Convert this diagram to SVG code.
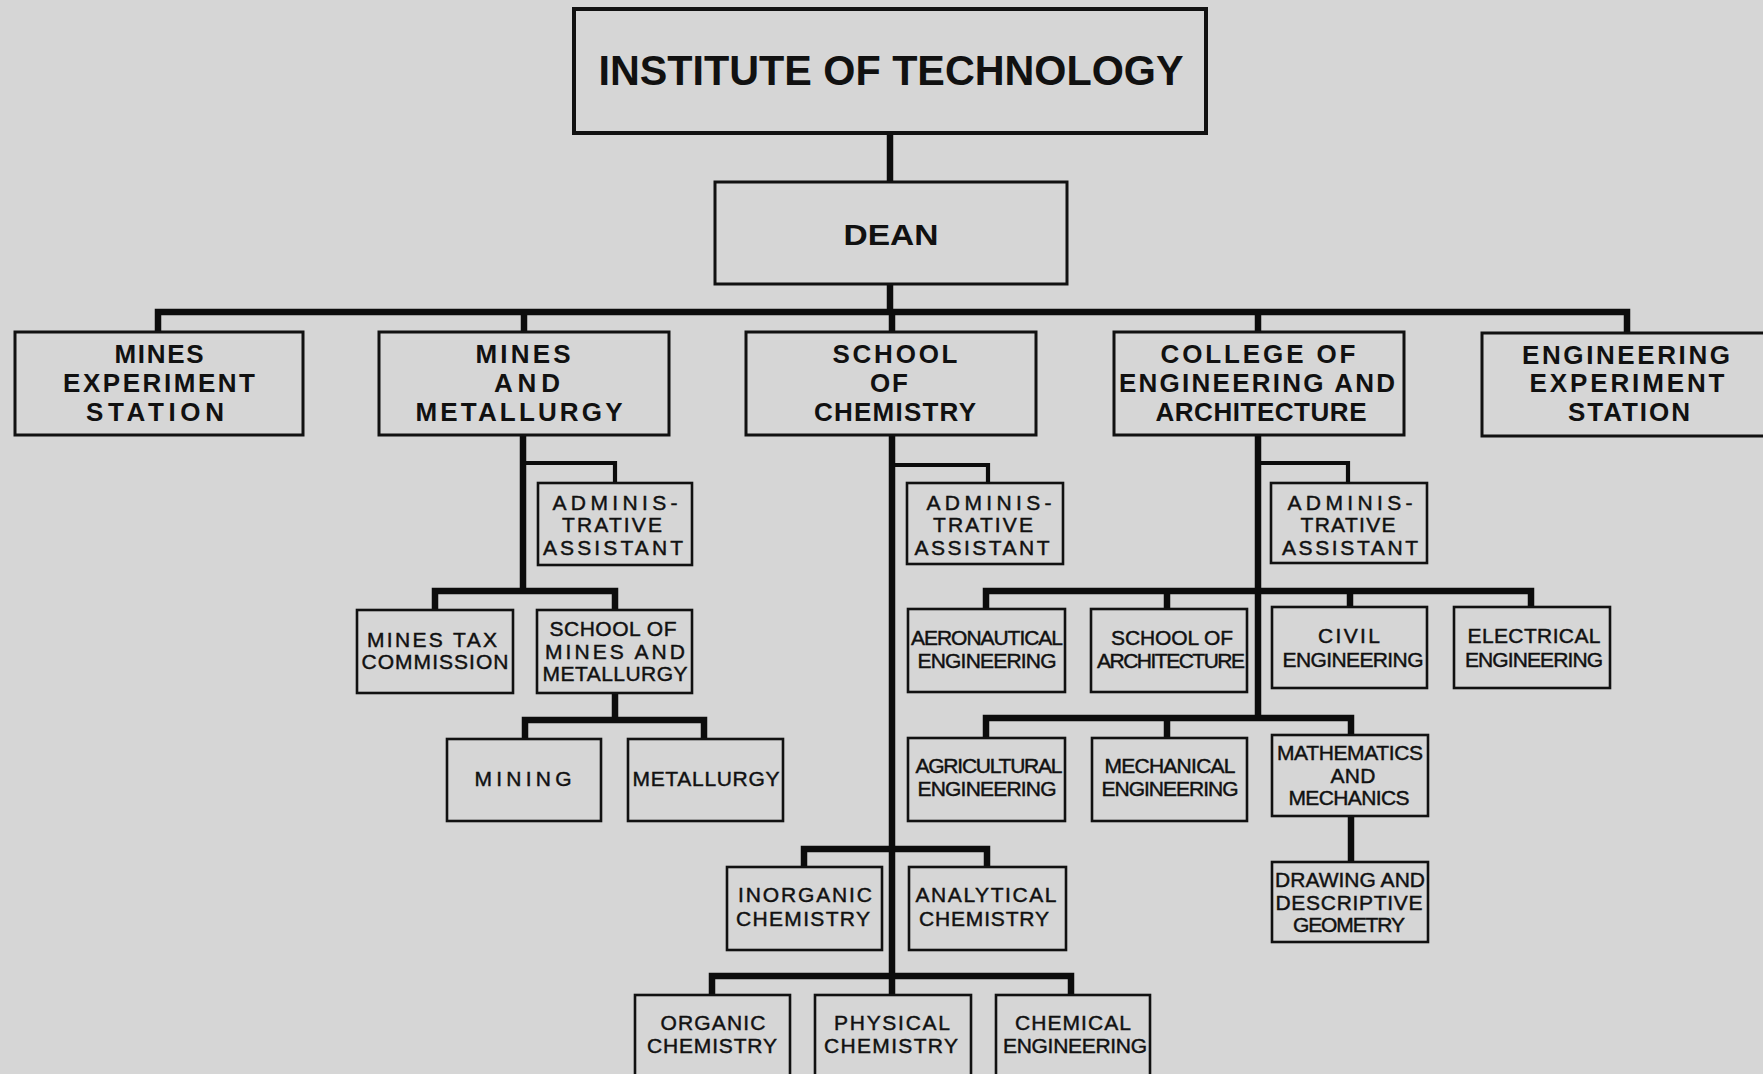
<svg xmlns="http://www.w3.org/2000/svg" width="1763" height="1074" viewBox="0 0 1763 1074">
<defs>
<style>
.bg{fill:#d6d6d6}
.box{fill:none;stroke:#111;stroke-width:2.6}
.box1{fill:none;stroke:#111;stroke-width:3}
.boxt{fill:none;stroke:#111;stroke-width:4}
.c{fill:none;stroke:#0c0c0c;stroke-width:6.5;stroke-linejoin:miter;stroke-linecap:butt}
.ct{fill:none;stroke:#0c0c0c;stroke-width:4.2;stroke-linejoin:miter}
text{font-family:"Liberation Sans",Arial,sans-serif;fill:#111;text-anchor:middle}
.t0{font-size:42px;font-weight:bold}
.t1{font-size:26px;font-weight:bold}
.t2{font-size:21px;stroke:#111;stroke-width:0.45}
</style>
</defs>
<rect class="bg" x="0" y="0" width="1763" height="1074"/>

<g id="connectors">
<path class="c" d="M890,133 V182"/>
<path class="c" d="M890,284 V312"/>
<path class="c" d="M158,332 V312 H1627 V333"/>
<path class="c" d="M524,312 V332"/>
<path class="c" d="M892,312 V332"/>
<path class="c" d="M1258,312 V332"/>
<!-- Mines and Metallurgy -->
<path class="c" d="M523,435 V591"/>
<path class="ct" d="M523,463 H615 V483"/>
<path class="c" d="M435,610 V591 H615 V610"/>
<path class="c" d="M615,693 V720"/>
<path class="c" d="M525,739 V720 H704 V739"/>
<!-- School of Chemistry -->
<path class="c" d="M892,435 V995"/>
<path class="ct" d="M892,465 H988 V483"/>
<path class="c" d="M804,867 V849 H987 V867"/>
<path class="c" d="M712,995 V976 H1071 V995"/>
<!-- College -->
<path class="c" d="M1258,435 V718"/>
<path class="ct" d="M1258,463 H1348 V483"/>
<path class="c" d="M986,609 V591 H1531 V607"/>
<path class="c" d="M1167,591 V609"/>
<path class="c" d="M1350,591 V607"/>
<path class="c" d="M986,738 V718 H1351 V735"/>
<path class="c" d="M1167,718 V738"/>
<path class="c" d="M1351,816 V862"/>
</g>

<g id="institute">
<rect class="boxt" x="574" y="9" width="632" height="124"/>
<text class="t0" x="891" y="85" textLength="585" lengthAdjust="spacingAndGlyphs">INSTITUTE OF TECHNOLOGY</text>
</g>
<g id="dean">
<rect class="box1" x="715" y="182" width="352" height="102"/>
<text x="891" y="245" style="font-size:30px;font-weight:bold" textLength="95" lengthAdjust="spacingAndGlyphs">DEAN</text>
</g>

<g id="mines-experiment-station">
<rect class="box1" x="15" y="332" width="288" height="103"/>
<text class="t1" x="159" y="363" textLength="89">MINES</text>
<text class="t1" x="159" y="392" textLength="192">EXPERIMENT</text>
<text class="t1" x="155" y="421" textLength="138">STATION</text>
</g>
<g id="mines-and-metallurgy">
<rect class="box1" x="379" y="332" width="290" height="103"/>
<text class="t1" x="523" y="363" textLength="95">MINES</text>
<text class="t1" x="527" y="392" textLength="66">AND</text>
<text class="t1" x="519" y="421" textLength="207">METALLURGY</text>
</g>
<g id="school-of-chemistry">
<rect class="box1" x="746" y="332" width="290" height="103"/>
<text class="t1" x="895" y="363" textLength="125">SCHOOL</text>
<text class="t1" x="889" y="392" textLength="38">OF</text>
<text class="t1" x="895" y="421" textLength="162">CHEMISTRY</text>
</g>
<g id="college-of-engineering">
<rect class="box1" x="1114" y="332" width="290" height="103"/>
<text class="t1" x="1258" y="363" textLength="195">COLLEGE OF</text>
<text class="t1" x="1257" y="392" textLength="276">ENGINEERING AND</text>
<text class="t1" x="1261" y="421" textLength="211">ARCHITECTURE</text>
</g>
<g id="engineering-experiment-station">
<rect class="box1" x="1482" y="333" width="300" height="103"/>
<text class="t1" x="1626" y="364" textLength="208">ENGINEERING</text>
<text class="t1" x="1627" y="392" textLength="195">EXPERIMENT</text>
<text class="t1" x="1629" y="421" textLength="122">STATION</text>
</g>

<g id="mm-admin">
<rect class="box" x="538" y="483" width="154" height="82"/>
<text class="t2" x="615" y="510" textLength="125">ADMINIS-</text>
<text class="t2" x="612" y="532" textLength="100">TRATIVE</text>
<text class="t2" x="613" y="555" textLength="140">ASSISTANT</text>
</g>
<g id="mines-tax-commission">
<rect class="box" x="357" y="610" width="156" height="83"/>
<text class="t2" x="432" y="647" textLength="130">MINES TAX</text>
<text class="t2" x="435" y="669" textLength="147">COMMISSION</text>
</g>
<g id="school-of-mines">
<rect class="box" x="537" y="610" width="155" height="83"/>
<text class="t2" x="613" y="636" textLength="127">SCHOOL OF</text>
<text class="t2" x="615" y="659" textLength="140">MINES AND</text>
<text class="t2" x="615" y="681" textLength="145">METALLURGY</text>
</g>
<g id="mining">
<rect class="box" x="447" y="739" width="154" height="82"/>
<text class="t2" x="523" y="786" textLength="97">MINING</text>
</g>
<g id="metallurgy">
<rect class="box" x="628" y="739" width="155" height="82"/>
<text class="t2" x="706" y="786" textLength="147">METALLURGY</text>
</g>

<g id="chem-admin">
<rect class="box" x="907" y="483" width="156" height="81"/>
<text class="t2" x="989" y="510" textLength="125">ADMINIS-</text>
<text class="t2" x="983" y="532" textLength="100">TRATIVE</text>
<text class="t2" x="982" y="555" textLength="135">ASSISTANT</text>
</g>
<g id="inorganic-chemistry">
<rect class="box" x="727" y="867" width="155" height="83"/>
<text class="t2" x="805" y="902" textLength="134">INORGANIC</text>
<text class="t2" x="803" y="926" textLength="134">CHEMISTRY</text>
</g>
<g id="analytical-chemistry">
<rect class="box" x="909" y="867" width="157" height="83"/>
<text class="t2" x="986" y="902" textLength="141">ANALYTICAL</text>
<text class="t2" x="984" y="926" textLength="130">CHEMISTRY</text>
</g>
<g id="organic-chemistry">
<rect class="box" x="635" y="995" width="155" height="90"/>
<text class="t2" x="713" y="1030" textLength="105">ORGANIC</text>
<text class="t2" x="712" y="1053" textLength="130">CHEMISTRY</text>
</g>
<g id="physical-chemistry">
<rect class="box" x="815" y="995" width="156" height="90"/>
<text class="t2" x="892" y="1030" textLength="116">PHYSICAL</text>
<text class="t2" x="891" y="1053" textLength="134">CHEMISTRY</text>
</g>
<g id="chemical-engineering">
<rect class="box" x="996" y="995" width="154" height="90"/>
<text class="t2" x="1073" y="1030" textLength="116">CHEMICAL</text>
<text class="t2" x="1075" y="1053" textLength="144">ENGINEERING</text>
</g>

<g id="college-admin">
<rect class="box" x="1271" y="483" width="156" height="80"/>
<text class="t2" x="1350" y="510" textLength="125">ADMINIS-</text>
<text class="t2" x="1348" y="532" textLength="95">TRATIVE</text>
<text class="t2" x="1350" y="555" textLength="136">ASSISTANT</text>
</g>
<g id="aeronautical-engineering">
<rect class="box" x="908" y="609" width="157" height="83"/>
<text class="t2" x="987" y="645" textLength="152">AERONAUTICAL</text>
<text class="t2" x="987" y="668" textLength="139">ENGINEERING</text>
</g>
<g id="school-of-architecture">
<rect class="box" x="1091" y="609" width="156" height="83"/>
<text class="t2" x="1172" y="645" textLength="122">SCHOOL OF</text>
<text class="t2" x="1171" y="668" textLength="148">ARCHITECTURE</text>
</g>
<g id="civil-engineering">
<rect class="box" x="1272" y="607" width="155" height="81"/>
<text class="t2" x="1349" y="643" textLength="62">CIVIL</text>
<text class="t2" x="1353" y="667" textLength="141">ENGINEERING</text>
</g>
<g id="electrical-engineering">
<rect class="box" x="1454" y="607" width="156" height="81"/>
<text class="t2" x="1534" y="643" textLength="133">ELECTRICAL</text>
<text class="t2" x="1534" y="667" textLength="138">ENGINEERING</text>
</g>
<g id="agricultural-engineering">
<rect class="box" x="908" y="738" width="157" height="83"/>
<text class="t2" x="989" y="773" textLength="147">AGRICULTURAL</text>
<text class="t2" x="987" y="796" textLength="139">ENGINEERING</text>
</g>
<g id="mechanical-engineering">
<rect class="box" x="1092" y="738" width="155" height="83"/>
<text class="t2" x="1170" y="773" textLength="131">MECHANICAL</text>
<text class="t2" x="1170" y="796" textLength="137">ENGINEERING</text>
</g>
<g id="mathematics-and-mechanics">
<rect class="box" x="1272" y="735" width="156" height="81"/>
<text class="t2" x="1350" y="760" textLength="146">MATHEMATICS</text>
<text class="t2" x="1353" y="783" textLength="45">AND</text>
<text class="t2" x="1349" y="805" textLength="121">MECHANICS</text>
</g>
<g id="drawing-and-descriptive-geometry">
<rect class="box" x="1272" y="862" width="156" height="80"/>
<text class="t2" x="1350" y="887" textLength="150">DRAWING AND</text>
<text class="t2" x="1349" y="910" textLength="147">DESCRIPTIVE</text>
<text class="t2" x="1349" y="932" textLength="112">GEOMETRY</text>
</g>
</svg>
